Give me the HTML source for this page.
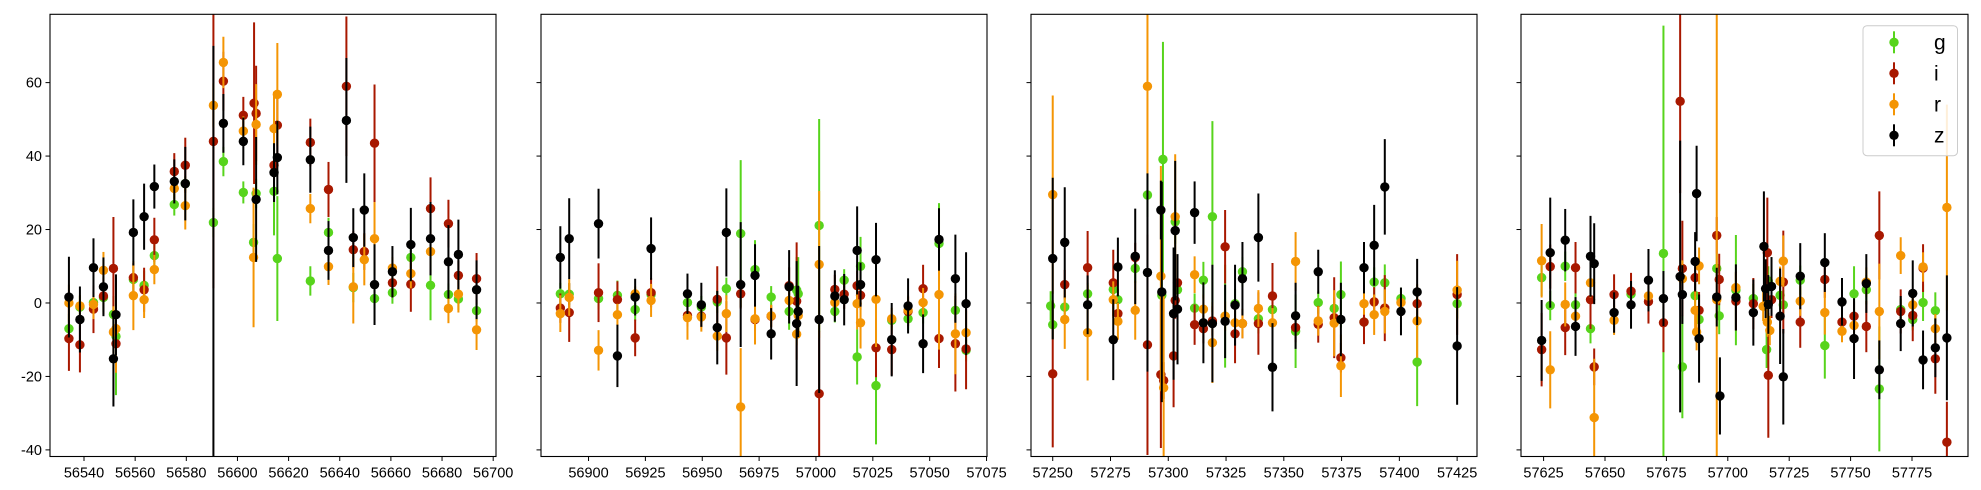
<!DOCTYPE html>
<html><head><meta charset="utf-8"><style>
html,body{margin:0;padding:0;background:#fff;overflow:hidden;width:1981px;height:490px;}
svg{display:block;font-family:"Liberation Sans","DejaVu Sans",sans-serif;overflow:hidden;}
</style></head><body>
<svg id="chart" width="1981" height="490" viewBox="0 0 1981 490" xmlns="http://www.w3.org/2000/svg"></svg>
<script>
const yTicks = [-40,-20,0,20,40,60];
const bands = ['g','i','r','z'];
const bandColors = {g:'#57d41c', i:'#a81800', r:'#f49504', z:'#000000'};
const xlims = [[56526.7,56701.1],[56879.1,57075.2],[57240.6,57433.6],[57615.8,57797.8]];
const xTicks1 = [56540,56560,56580,56600,56620,56640,56660,56680,56700];
const xTicks2 = [56900,56925,56950,56975,57000,57025,57050,57075];
const xTicks3 = [57250,57275,57300,57325,57350,57375,57400,57425];
const xTicks4 = [57625,57650,57675,57700,57725,57750,57775];

const p1g=[[56534.1,-7,4],[56538.4,-1.1,3],[56543.7,0.1,3],[56547.6,1.5,4],[56551.5,-3.1,5],[56552.5,-9.1,16],[56559.3,6.4,4],[56563.5,4.8,4],[56567.5,12.9,3],[56575.3,26.8,3],[56579.6,32.5,2],[56590.6,21.9,4],[56594.5,38.5,4],[56602.3,30.1,3],[56607.3,29.8,4],[56606.3,16.5,5],[56614.3,30.4,12],[56615.6,12.1,17],[56628.5,6,4],[56635.6,19.2,4],[56645.3,4.2,4],[56653.6,1.2,3],[56660.6,2.8,3],[56667.8,12.4,3],[56675.5,4.8,9.5],[56682.5,2.3,3],[56686.4,1.1,3],[56693.5,-2.1,3]];
const p1i=[[56534.1,-9.7,8.8],[56538.4,-11.4,7.5],[56543.7,-1.7,6.5],[56547.6,1.9,5],[56551.5,9.4,14],[56552.5,-11.1,6],[56559.3,6.9,4],[56563.5,3.6,6],[56567.5,17.2,6],[56575.3,35.8,5],[56579.6,37.5,7.5],[56590.6,44,40],[56594.5,60.4,8],[56602.3,51.1,5],[56606.5,54.4,22],[56607.3,51.6,13],[56614.3,37.5,6],[56615.6,48.4,8],[56628.5,43.7,6.5],[56635.6,30.9,7.5],[56642.6,59,19],[56645.3,14.5,5],[56649.6,14,5],[56653.6,43.5,16],[56660.6,5.5,4],[56667.8,5.1,7.5],[56675.5,25.7,8.5],[56682.5,21.6,6.5],[56686.4,7.5,4],[56693.5,6.6,7]];
const p1r=[[56534.1,0,5],[56538.4,-0.8,3],[56543.7,-0.4,4],[56547.6,8.9,5],[56551.5,-7.9,7],[56552.5,-7,12],[56559.3,2,9.4],[56563.5,0.9,5],[56567.5,9.1,4],[56575.3,31.2,3],[56579.6,26.5,6.5],[56590.6,53.8,6],[56594.5,65.5,7],[56602.3,46.8,4],[56607.3,48.6,11],[56606.3,12.4,19],[56614.3,47.5,10],[56615.6,56.8,14],[56628.5,25.7,4],[56635.6,9.9,5],[56645.3,4.4,10],[56649.6,11.8,7],[56653.6,17.5,10],[56660.6,9.5,3],[56667.8,8,4],[56675.5,14,6],[56682.5,-1.5,4],[56686.4,2.4,5],[56693.5,-7.3,5.5]];
const p1z=[[56534.1,1.6,11],[56538.4,-4.5,9],[56543.7,9.6,8],[56547.6,4.4,8],[56551.5,-15.2,13],[56552.5,-3.2,11],[56559.3,19.2,9],[56563.5,23.5,9],[56567.5,31.7,6],[56575.3,33.1,6],[56579.6,32.5,10],[56590.6,-55,125],[56594.5,48.9,8],[56602.3,44,6.5],[56607.3,28.2,17],[56614.3,35.5,8],[56615.6,39.6,10],[56628.5,39,9],[56635.6,14.3,8],[56642.6,49.7,17],[56645.3,17.8,8],[56649.6,25.3,10],[56653.6,5,11],[56660.6,8.5,7],[56667.8,15.9,10],[56675.5,17.5,10],[56682.5,11.2,10],[56686.4,13.2,9.5],[56693.5,3.6,8]];

const p2g=[[56887.6,2.5,3],[56891.5,2.4,3],[56904.4,1.2,3],[56912.7,2.1,4],[56920.5,-1.8,3],[56927.5,2.3,2],[56943.5,0.1,3],[56949.6,-1.1,3],[56956.6,0.3,3],[56960.6,3.9,3],[56966.9,18.9,20],[56973.2,9.1,8],[56980.3,1.6,3],[56988.2,-2.3,5],[56991.5,3.5,9],[56992.2,2.5,10],[57001.4,21.1,29],[57008.3,-2.3,3],[57012.4,6.2,3],[57018.1,-14.7,7.5],[57019.6,10,8],[57026.4,-22.5,16],[57033.3,-4.7,2],[57040.5,-4.3,3],[57047.1,-2.6,3],[57054.1,16.2,11],[57061.3,-2,3],[57066,-12.9,3]];
const p2i=[[56887.6,-1.4,4],[56891.5,-2.6,8],[56904.4,2.8,8],[56912.7,0.9,5],[56920.5,-9.5,5],[56927.5,2.8,4],[56943.5,-3.4,3],[56949.6,-3.6,3],[56956.6,1,9],[56960.6,-9.5,10],[56966.9,2.5,4],[56973.2,-4.5,3],[56980.3,-3.6,3],[56988.2,4.7,5],[56991.5,0.5,16],[57001.4,-24.7,17],[57008.3,3.7,4],[57012.4,2.4,4],[57018.1,4.7,4],[57019.6,2.1,4],[57026.4,-12.2,8],[57033.3,-12.7,7],[57040.5,-2.3,4],[57047.1,3.9,6.5],[57054.1,-9.7,8],[57061.3,-11.1,13],[57066,-12.5,11]];
const p2r=[[56887.6,-2.9,5],[56891.5,1.5,5],[56904.4,-12.9,5.5],[56912.7,-3.2,3],[56920.5,2.5,2],[56927.5,0.7,4.5],[56943.5,-4,6],[56949.6,-3.8,4],[56956.6,-9,4],[56960.6,-2.9,5],[56966.9,-28.3,16],[56973.2,-4.3,7],[56980.3,-3.5,3],[56988.2,0.7,5],[56991.5,-8.5,3],[56992.2,-3.4,6],[57001.4,10.5,20],[57008.3,0.1,4],[57018.1,-0.2,7],[57019.6,-5.4,7],[57026.4,1,13],[57033.3,-4.3,3],[57040.5,-2,4],[57047.1,0.1,4],[57054.1,2.3,15],[57061.3,-8.4,11],[57066,-8.1,6]];
const p2z=[[56887.6,12.4,8.5],[56891.5,17.5,11],[56904.4,21.6,9.5],[56912.7,-14.4,8.5],[56920.5,1.6,5],[56927.5,14.8,8.5],[56943.5,2.5,5.5],[56949.6,-0.5,6],[56956.6,-6.7,10],[56960.6,19.2,12],[56966.9,5,17],[56973.2,7.5,8.5],[56980.3,-8.4,7],[56988.2,4.4,10],[56991.5,-5.6,17],[56992.2,-2.3,7],[57001.4,-4.5,20],[57008.3,1.9,7],[57012.4,0.9,7],[57018.1,14.3,12],[57019.6,5,6],[57026.4,11.8,10],[57033.3,-10,10],[57040.5,-0.8,7.5],[57047.1,-11.1,8],[57054.1,17.3,8.5],[57061.3,6.6,12],[57066,-0.2,14]];

const p3g=[[57249.1,-0.8,4],[57250,-5.9,4],[57255.2,-1.1,3],[57265.1,2.5,3],[57276.2,3.7,3],[57278.2,0.9,3],[57285.7,9.4,4],[57291,29.4,6],[57297.2,2.1,4],[57297.7,39.1,32],[57303,22.1,6],[57304,3.6,4],[57311.4,-1.4,4],[57315.2,6.2,5],[57319.1,23.5,26],[57324.6,-3.6,14],[57328.9,-0.2,4],[57332.1,8.5,4],[57339,-4.3,4],[57345.1,-1.8,3],[57355.1,-7.7,10],[57364.9,0.1,3],[57371.8,-1.5,3],[57374.7,2.3,9],[57384.7,-5.2,4],[57389.1,5.7,4],[57393.7,5.5,5],[57400.7,1.2,3],[57407.7,-16.1,12],[57425,-0.2,4]];
const p3i=[[57250,-19.3,20],[57255.2,5,4],[57265.1,9.6,10],[57276.2,5.5,9],[57278.2,-2.9,3],[57285.7,12.4,4],[57291,-11.4,30],[57296.8,-19.5,20],[57298,-21.1,5],[57304,5.5,4],[57303,0.7,5],[57302.3,-14.4,14],[57311.4,-5.9,5.5],[57315.2,-7,4],[57319.1,-4.9,4],[57324.6,15.3,10],[57328.9,-8.4,8],[57332.1,-5.6,4],[57339,-5.6,8.5],[57345.1,1.9,9],[57355.1,-6.7,4],[57364.9,-5.8,5],[57371.8,-4,11],[57374.7,-14.9,4],[57384.7,-5.2,6],[57389.1,0.3,4],[57393.7,-1.4,9],[57407.7,-0.2,4],[57425,2.3,11]];
const p3r=[[57250,29.5,27],[57255.2,-4.5,8],[57265.1,-8.1,13],[57276.2,0.9,5],[57278.2,-5,5],[57285.7,-2,8],[57291,59,24],[57296.8,7.3,30],[57298,-23.1,25],[57303,23.5,17],[57311.4,7.7,5],[57315.2,-1.7,4],[57319.1,-10.8,11],[57324.6,-3.6,4],[57328.9,-5.4,4],[57332.1,-5.6,4],[57339,-1.5,5],[57345.1,-5.4,4],[57355.1,11.3,8],[57364.9,-4.9,4],[57371.8,-5.5,9],[57374.7,-17.1,8.5],[57384.7,-0.2,3],[57389.1,-3.2,5.5],[57393.7,-2.3,6],[57400.7,0.1,3],[57407.7,-4.9,10],[57425,3.5,8]];
const p3z=[[57250,12.1,22],[57255.2,16.5,15],[57265.1,-0.5,8],[57276.2,-10,11],[57278.2,9.8,8],[57285.7,12.7,13],[57291,8.3,27],[57296.8,25.3,8],[57297.2,3,30],[57303,19.7,19],[57304,-1.7,15],[57302.3,-2.9,18],[57311.4,24.6,8.5],[57315.2,-5.4,11],[57319.1,-5.6,16],[57324.6,-5,10],[57328.9,-0.6,11],[57332.1,6.6,10],[57339,17.8,12],[57345.1,-17.5,12],[57355.1,-3.5,9],[57364.9,8.5,6],[57374.7,-4.5,10],[57384.7,9.6,7],[57389.1,15.7,11],[57393.7,31.6,13],[57400.7,-2.3,6.5],[57407.7,3,9],[57425,-11.7,16]];

const p4g=[[57624.2,6.9,5],[57627.7,-0.7,4],[57633.8,10,4],[57638,-0.5,4],[57644.1,-7,4],[57660.6,2.4,3],[57673.8,13.5,62],[57681.5,-17.4,14],[57686.7,2,4],[57688.3,-4.5,4],[57695.5,9.4,4],[57696.5,-3.5,5],[57703.3,3.5,15],[57710.4,1.2,4],[57716.5,6,4],[57715.8,-12.7,5],[57721.3,2.1,4],[57722.6,-0.5,4],[57729.5,6.2,4],[57739.5,-11.6,9],[57751.4,2.5,7.5],[57756.4,3.6,4],[57761.7,-23.4,17],[57770.4,-1.8,3],[57775.3,-4.5,3],[57779.5,0.1,5],[57784.5,-2.1,5]];
const p4i=[[57624.2,-12.7,10],[57627.7,9.9,6],[57633.8,-6.7,7.5],[57638,9.6,7],[57644.1,0.9,8],[57645.6,-17.4,5],[57653.7,2.3,5.5],[57660.6,3.2,5],[57667.7,0.4,6],[57673.8,-5.4,8],[57680.6,54.9,25],[57681.5,9.4,13],[57686.7,6.9,5],[57688.3,-2,5],[57695.5,18.4,5],[57696.5,6.4,7],[57703.3,0.5,8],[57710.4,-0.2,7],[57716.1,13.7,15],[57717.8,0.9,5],[57716.5,-19.7,17],[57722.6,5.7,14],[57729.5,-5.2,7],[57739.5,6.4,5],[57746.5,-5.2,3],[57751.4,-3.6,4],[57756.4,-6.4,7],[57761.7,18.4,12],[57770.4,-2.3,6],[57775.3,-3.4,7],[57779.5,9.5,6.5],[57784.5,-15.2,9.5],[57789.2,-37.9,11]];
const p4r=[[57624.2,11.5,10],[57627.7,-18.2,10.5],[57633.8,-0.4,6],[57638,-3.6,4],[57644.1,5.5,4],[57645.6,-31.2,16],[57653.7,-4.7,4],[57667.7,1.9,3],[57681.5,6.6,5],[57688.3,10.1,5],[57686.7,-2,5],[57687.3,-7.9,5],[57695.5,0.9,80],[57703.3,4.2,4],[57714.4,-0.9,4],[57716.1,-5.2,4],[57717.1,-7.5,4],[57721.3,5.9,4],[57722.6,11.4,7],[57729.5,0.5,4],[57739.5,-2.6,6],[57746.5,-7.7,3],[57751.4,-6.1,4],[57756.4,5.7,4],[57761.7,-2.3,13],[57770.4,12.9,5],[57775.3,-0.5,4],[57779.5,9.8,4],[57784.5,-7,4],[57789.2,26,28]];
const p4z=[[57624.2,-10.2,11],[57627.7,13.7,15],[57633.8,17.1,8.5],[57638,-6.4,8],[57644.1,12.7,11],[57645.6,10.7,11],[57653.7,-2.6,5.5],[57660.6,-0.5,6.5],[57667.7,6.2,8.5],[57673.8,1.2,7.5],[57680.6,7.2,37],[57681.5,2.3,8],[57687.3,29.8,13],[57686.7,11.3,8],[57688.3,-9.7,12],[57695.5,1.6,8],[57696.8,-25.3,10.5],[57703.3,1.5,9],[57710.4,-2.6,9],[57714.7,15.4,15],[57715.4,3.9,8],[57717.8,4.5,8],[57716.5,-0.4,8],[57721.3,-3.6,13],[57722.6,-20.1,13],[57729.5,7.3,9],[57739.5,11,8],[57746.5,0.3,6.5],[57751.4,-9.7,11],[57756.4,5.3,8],[57761.7,-18.2,8],[57770.4,-5.6,7.5],[57775.3,2.6,9],[57779.5,-15.5,8],[57784.5,-12.2,8],[57789.2,-9.5,17]];

const panelData = [
  {g:p1g,i:p1i,r:p1r,z:p1z},
  {g:p2g,i:p2i,r:p2r,z:p2z},
  {g:p3g,i:p3i,r:p3r,z:p3z},
  {g:p4g,i:p4i,r:p4r,z:p4z}
];
const panelTicks = [xTicks1,xTicks2,xTicks3,xTicks4];

const NS='http://www.w3.org/2000/svg';
const svg=document.getElementById('chart');
const boxes=[[50,496],[541,987],[1031,1477],[1521,1968]];
const TOP=14.3, BOT=456.5, YMAX=78.6, YMIN=-41.8;
function yScale(v){return TOP+(YMAX-v)/(YMAX-YMIN)*(BOT-TOP);}
function clampY(y){return Math.max(TOP,Math.min(BOT,y));}
function mk(tag,attrs,parent){const e=document.createElementNS(NS,tag);for(const k in attrs)e.setAttribute(k,attrs[k]);(parent||svg).appendChild(e);return e;}

const defs=mk('defs',{});
boxes.forEach((b,pi)=>{
  const cp=mk('clipPath',{id:'clip'+pi},defs);
  mk('rect',{x:b[0],y:TOP,width:b[1]-b[0],height:BOT-TOP},cp);
});

boxes.forEach((b,pi)=>{
  const [x0,x1]=b; const [lo,hi]=xlims[pi];
  const xScale=v=>x0+(v-lo)/(hi-lo)*(x1-x0);
  const g=mk('g',{});
  
  
  const plot=mk('g',{'clip-path':'url(#clip'+pi+')'},g);
  
  
  bands.forEach(bd=>{
    const sg=mk('g',{},plot);
    
    
    panelData[pi][bd].forEach(d=>{
      const cx=xScale(d[0]);
      const ln=mk('line',{x1:cx,x2:cx,y1:clampY(yScale(d[1]+d[2])),y2:clampY(yScale(d[1]-d[2])),stroke:bandColors[bd],'stroke-width':2},sg);
      
      
      const cy=yScale(d[1]);
      if(cy>=TOP-4 && cy<=BOT+4){
        const c=mk('circle',{cx:cx,cy:cy,r:4.7,fill:bandColors[bd]},sg);
        
        
      }
    });
  });
  const frame=mk('rect',{x:x0,y:TOP,width:x1-x0,height:BOT-TOP,fill:'none',stroke:'#000','stroke-width':1.1},g);
  
  
  yTicks.forEach(t=>{
    const y=yScale(t);
    const tk=mk('line',{x1:x0-4.5,x2:x0,y1:y,y2:y,stroke:'#000','stroke-width':1},g);
    
    
    if(pi===0){
      const tx=mk('text',{x:x0-8,y:y+5,'text-anchor':'end','font-size':14.5,fill:'#000'},g);
      tx.textContent=String(t);
      
      
    }
  });
  panelTicks[pi].forEach(t=>{
    const x=xScale(t);
    const tk=mk('line',{x1:x,x2:x,y1:BOT,y2:BOT+4.5,stroke:'#000','stroke-width':1},g);
    
    
    const tx=mk('text',{x:x,y:BOT+21,'text-anchor':'middle','font-size':14.5,fill:'#000'},g);
    tx.textContent=String(t);
    
    
  });
});

// legend
const lg=mk('g',{});


mk('rect',{x:1863,y:25.7,width:94.5,height:130,rx:4,fill:'#fff','fill-opacity':0.85,stroke:'#cccccc','stroke-width':1},lg);
bands.forEach((bd,k)=>{
  const y=42.3+k*31;
  const e=mk('g',{},lg);
  
  
  mk('line',{x1:1894,x2:1894,y1:y-11,y2:y+11,stroke:bandColors[bd],'stroke-width':2},e);
  mk('circle',{cx:1894,cy:y,r:4.7,fill:bandColors[bd]},e);
  const t=mk('text',{x:1934,y:y+7,'font-size':21,fill:'#000'},e);
  t.textContent=bd;
});
</script>
</body></html>
